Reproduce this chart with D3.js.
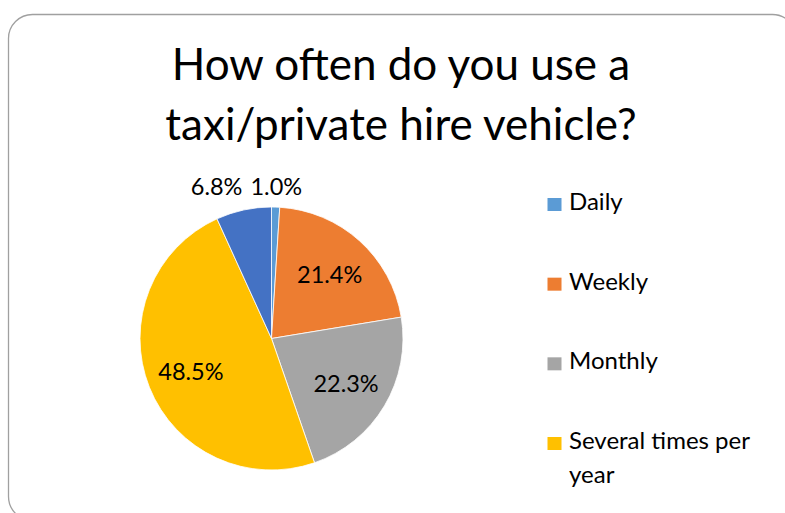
<!DOCTYPE html>
<html>
<head>
<meta charset="utf-8">
<script src="https://cdn.jsdelivr.net/npm/d3@7"></script>
<style>
  html, body { margin: 0; padding: 0; background: #fff; }
  svg { display: block; }
  text { font-family: Lato, "Open Sans", sans-serif; fill: #000; }
</style>
</head>
<body>
<svg id="chart" width="785" height="513"></svg>
<script>
// Survey answers, in the order the slices run clockwise from 12 o'clock
const categories = ["Daily", "Weekly", "Monthly", "Several times per year", "Less often"];
const shares = [1.0, 21.4, 22.3, 48.5, 6.8];
const colors = ["#5B9BD5", "#ED7D31", "#A5A5A5", "#FFC000", "#4472C4"];
const titleLines = ["How often do you use a", "taxi/private hire vehicle?"];
// Only the first four entries fit in the legend box
const legendCount = 4;

const W = 785, H = 513;
const svg = d3.select("#chart");

// Chart frame with rounded corners (runs past the right and bottom edges)
svg.append("rect")
  .attr("x", 8.5).attr("y", 14.5)
  .attr("width", 788).attr("height", 506)
  .attr("rx", 24).attr("ry", 24)
  .attr("fill", "#fff")
  .attr("stroke", "#a0a0a0")
  .attr("stroke-width", 1.3);

// Title
svg.append("g").selectAll("text")
  .data(titleLines)
  .join("text")
  .attr("x", 401)
  .attr("y", (d, i) => 80 + i * 60)
  .attr("text-anchor", "middle")
  .style("font-size", "44px")
  .text(d => d);

// Pie
const cx = 271.5, cy = 338.5, R = 131.5;
const data = categories.map((c, i) => ({ name: c, value: shares[i], color: colors[i] }));
const pie = d3.pie().value(d => d.value).sort(null);
const arcs = pie(data);
const arc = d3.arc().innerRadius(0).outerRadius(R);
const labelArc = d3.arc().innerRadius(R * 0.66).outerRadius(R * 0.66);
const outerArc = d3.arc().innerRadius(R + 21).outerRadius(R + 21);

const g = svg.append("g").attr("transform", `translate(${cx},${cy})`);
g.selectAll("path")
  .data(arcs)
  .join("path")
  .attr("d", arc)
  .attr("fill", d => d.data.color)
  .attr("stroke", "#fff")
  .attr("stroke-width", 0.8);

// Data labels: inside for large slices, above the pie for thin ones
const fmt = d3.format(".1f");
const labels = arcs.map(d => {
  const outside = d.data.value < 10;
  const [x, y] = outside ? outerArc.centroid(d) : labelArc.centroid(d);
  return { d, outside, x, y, text: fmt(d.data.value) + "%" };
});

const labelSel = g.selectAll("text.lbl")
  .data(labels)
  .join("text")
  .attr("class", "lbl")
  .attr("text-anchor", "middle")
  .attr("dominant-baseline", "central")
  .style("font-size", "23.5px")
  .text(l => l.text);

// Separate outside labels that would collide
const outs = labels.filter(l => l.outside);
labelSel.each(function (l) { l.w = this.getComputedTextLength(); });
outs.sort((a, b) => a.x - b.x);
for (let i = outs.length - 2; i >= 0; i--) {
  const right = outs[i + 1], left = outs[i];
  const minGap = (left.w + right.w) / 2 + 8;
  if (right.x - left.x < minGap) left.x = right.x - minGap;
  const y = Math.min(left.y, right.y);
  left.y = y; right.y = y;
}
labelSel.attr("x", l => l.x).attr("y", l => l.y);

// Legend
const legend = svg.append("g");
const rowY = d3.scaleLinear().domain([0, legendCount - 1]).range([210, 449]);
const maxTextWidth = 205;
data.slice(0, legendCount).forEach((d, i) => {
  const row = legend.append("g").attr("transform", `translate(0,${rowY(i)})`);
  row.append("rect")
    .attr("x", 547.5).attr("y", -12)
    .attr("width", 14).attr("height", 13)
    .attr("fill", d.color);
  const t = row.append("text")
    .attr("x", 569).attr("y", 0)
    .style("font-size", "24px");
  // simple word wrap
  const words = d.name.split(" ");
  let line = [];
  let tspan = t.append("tspan").attr("x", 569).attr("dy", 0);
  words.forEach(w => {
    line.push(w);
    tspan.text(line.join(" "));
    if (tspan.node().getComputedTextLength() > maxTextWidth && line.length > 1) {
      line.pop();
      tspan.text(line.join(" "));
      line = [w];
      tspan = t.append("tspan").attr("x", 569).attr("dy", 34).text(w);
    }
  });
});
</script>
</body>
</html>
